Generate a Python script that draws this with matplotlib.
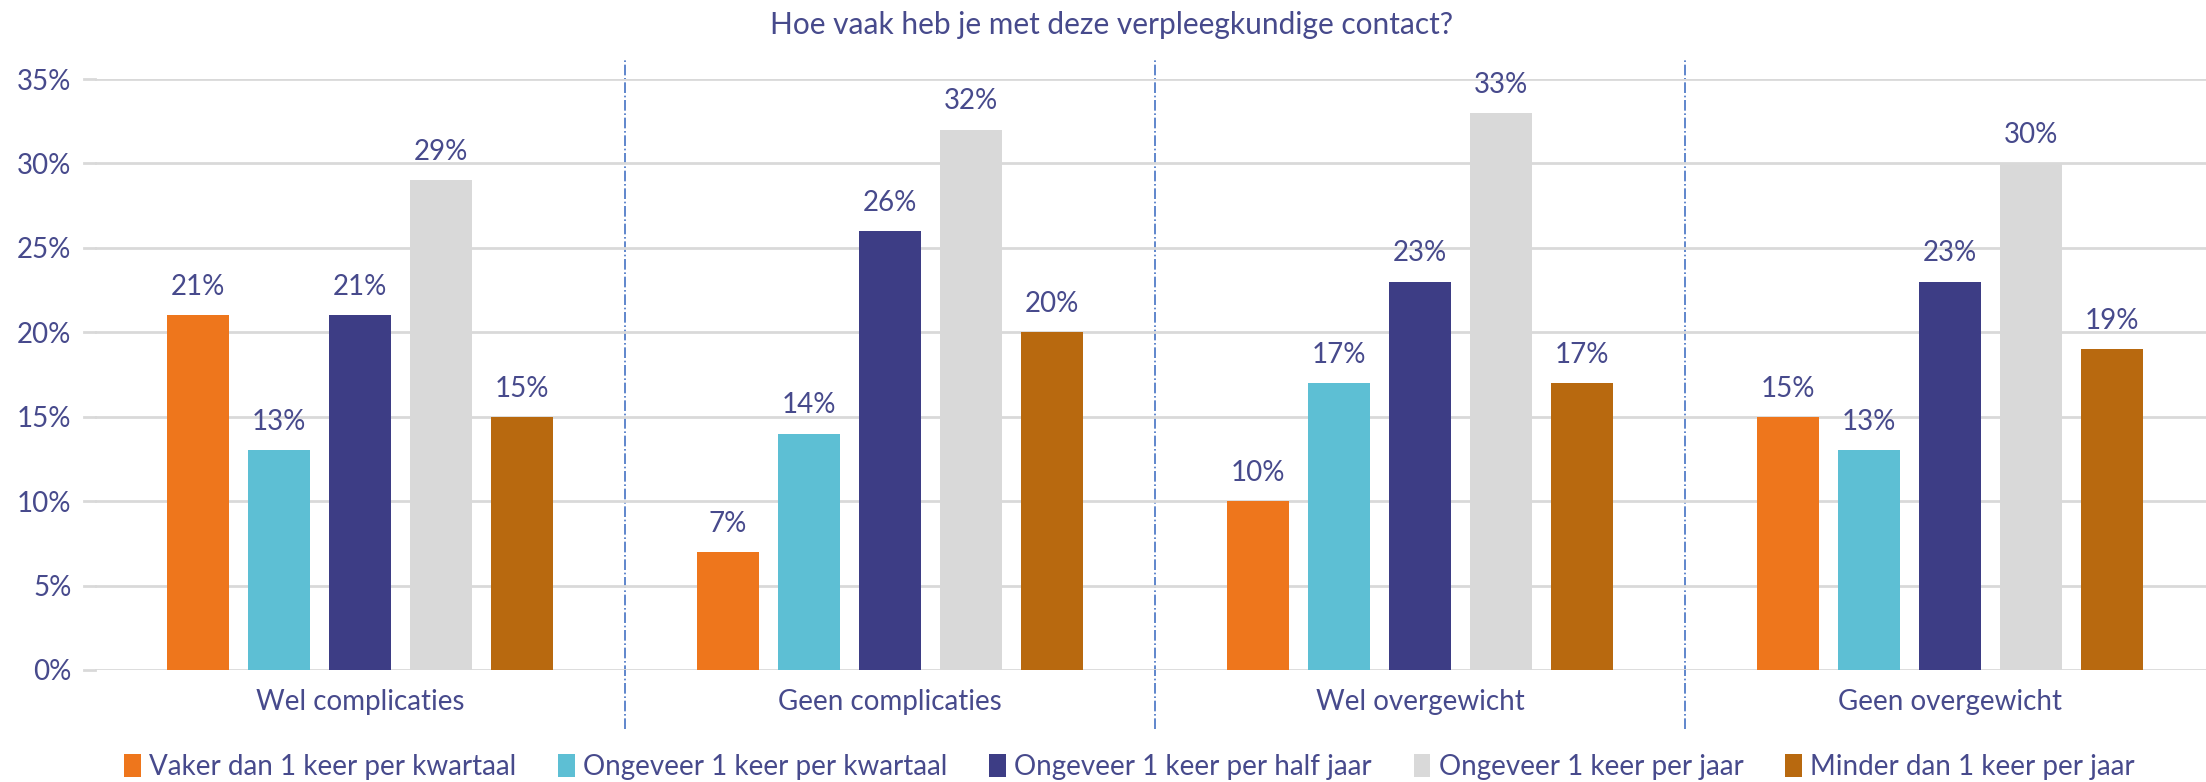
import matplotlib.pyplot as plt
import numpy as np
from matplotlib.ticker import PercentFormatter

groups = ["Wel complicaties", "Geen complicaties", "Wel overgewicht", "Geen overgewicht"]
series = [
    "Vaker dan 1 keer per kwartaal",
    "Ongeveer 1 keer per kwartaal",
    "Ongeveer 1 keer per half jaar",
    "Ongeveer 1 keer per jaar",
    "Minder dan 1 keer per jaar",
]
values = [
    [21, 7, 10, 15],
    [13, 14, 17, 13],
    [21, 26, 23, 23],
    [29, 32, 33, 30],
    [15, 20, 17, 19],
]
colors = ["#EE761C", "#5DBFD4", "#3D3D85", "#D9D9D9", "#B8690F"]
txt = "#474A8C"

plt.rcParams["font.family"] = ["Lato", "DejaVu Sans"]

fig = plt.figure(figsize=(22.06, 7.82), dpi=100)
# group width ~530 px, first group centred near x=360 px
gw = 530
ax = fig.add_axes([(360 - 0.5 * gw) / 2206, 1 - 670 / 782, 4 * gw / 2206, (670 - 79) / 782])

x = np.arange(len(groups))
step = 0.153
width = 0.118
for i, (name, vals) in enumerate(zip(series, values)):
    pos = x + (i - 2) * step
    bars = ax.bar(pos, vals, width=width, color=colors[i], label=name, zorder=3)
    for b, v in zip(bars, vals):
        ax.text(b.get_x() + b.get_width() / 2, v + 0.9, f"{v}%", ha="center",
                va="bottom", fontsize=20, color=txt)

ax.set_ylim(0, 35)
ax.set_xlim(-0.5, 3.5)
ax.set_yticks(range(0, 36, 5))
ax.yaxis.set_major_formatter(PercentFormatter(decimals=0))
ax.grid(axis="y", color="#D9D9D9", linewidth=2, zorder=0)
# gridlines reach a little further left than the first group
for yv in range(0, 36, 5):
    ax.plot([-0.52, -0.5], [yv, yv], color="#D9D9D9", linewidth=2, clip_on=False, zorder=0)
for s in ax.spines.values():
    s.set_visible(False)
ax.tick_params(length=0, labelsize=20, colors=txt)
ax.tick_params(axis="y", pad=17)
ax.tick_params(axis="x", pad=14)
ax.set_xticks(x)
ax.set_xticklabels(groups, fontsize=20)

for sx in [0.5, 1.5, 2.5]:
    ax.plot([sx, sx], [-3.5, 36.2], color="#4472C4", linestyle="-.",
            linewidth=1.2, clip_on=False, zorder=1)

fig.text(0.504, 1 - 25 / 782, "Hoe vaak heb je met deze verpleegkundige contact?",
         ha="center", va="center", fontsize=21.5, color=txt)

fig.legend(loc="center", bbox_to_anchor=(0.512, 1 - 767 / 782), ncol=5,
           frameon=False, fontsize=20, labelcolor=txt, handlelength=0.6,
           handleheight=0.9, handletextpad=0.3, columnspacing=1.5)

fig.savefig("out.png", dpi=100)
